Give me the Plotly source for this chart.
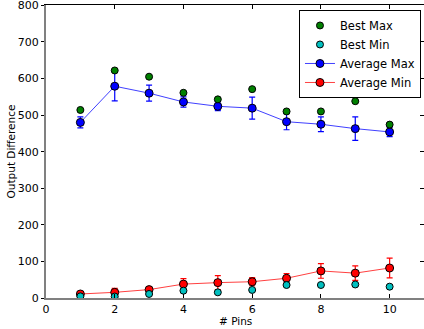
import plotly.graph_objects as go

pins = [1, 2, 3, 4, 5, 6, 7, 8, 9, 10]

best_max = [514, 622, 605, 561, 543, 571, 510, 510, 538, 474]
best_min = [4.5, 4, 11, 20, 15.5, 22, 35.5, 35.5, 37, 31]

avg_max = [480, 579, 560, 536, 524, 519, 482, 475, 463, 454]
avg_max_err = [15, 40, 22, 14, 12, 30, 22, 20, 32, 13]

avg_min = [11, 15.5, 23, 38, 42, 44.5, 54, 74, 68, 82]
avg_min_err = [6, 11, 6, 15, 19, 11, 13, 20, 20, 27]

x_ticks = [0, 2, 4, 6, 8, 10]
y_ticks = [0, 100, 200, 300, 400, 500, 600, 700, 800]

FONT = "DejaVu Sans"

fig = go.Figure()

fig.add_trace(go.Scatter(
    x=pins, y=avg_max, name="Average Max", mode="lines+markers",
    line=dict(color="rgba(0,0,255,0.75)", width=1),
    marker=dict(color="#0000ff", size=8, line=dict(color="black", width=1)),
    error_y=dict(type="data", array=avg_max_err, color="#0000ff", thickness=1.2, width=3),
    legendrank=3,
))
fig.add_trace(go.Scatter(
    x=pins, y=avg_min, name="Average Min", mode="lines+markers",
    line=dict(color="rgba(255,0,0,0.75)", width=1),
    marker=dict(color="#ff0000", size=8, line=dict(color="black", width=1)),
    error_y=dict(type="data", array=avg_min_err, color="#ff0000", thickness=1.2, width=3),
    legendrank=4,
))
fig.add_trace(go.Scatter(
    x=pins, y=best_max, name="Best Max", mode="markers",
    marker=dict(color="#008000", size=7, line=dict(color="black", width=1)),
    legendrank=1,
))
fig.add_trace(go.Scatter(
    x=pins, y=best_min, name="Best Min", mode="markers",
    marker=dict(color="#00bfbf", size=7, line=dict(color="black", width=1)),
    legendrank=2,
))
# invisible trace so the mirrored top/right axes get drawn
fig.add_trace(go.Scatter(
    x=[0], y=[0], xaxis="x2", yaxis="y2", mode="markers",
    marker=dict(opacity=0), showlegend=False, hoverinfo="skip",
))

Y_RANGE = [0, 801]

fig.update_layout(
    width=424, height=329,
    margin=dict(l=46, r=0, t=5, b=31),
    paper_bgcolor="white", plot_bgcolor="white",
    font=dict(family=FONT, size=10, color="black"),
    showlegend=True,
    legend=dict(
        x=0.992, y=0.983, xanchor="right", yanchor="top",
        bgcolor="white", bordercolor="black", borderwidth=1,
        font=dict(family=FONT, size=11.5, color="black"),
        tracegroupgap=0,
    ),
    xaxis=dict(
        range=[0, 11], tickvals=x_ticks, showgrid=False, zeroline=False,
        showline=True, linecolor="#808080", linewidth=2,
        ticks="inside", ticklen=4, tickcolor="black", tickwidth=1,
        tickfont=dict(family=FONT, size=11),
        ticklabeloverflow="allow",
    ),
    yaxis=dict(
        range=Y_RANGE, tickvals=y_ticks, showgrid=False, zeroline=False,
        showline=True, linecolor="#808080", linewidth=2,
        ticks="outside", ticklen=3, tickcolor="black", tickwidth=1,
        title=dict(text="Output Difference", font=dict(family=FONT, size=10.5), standoff=0),
        tickfont=dict(family=FONT, size=11),
        ticklabeloverflow="allow",
    ),
    xaxis2=dict(
        overlaying="x", side="top", matches="x", tickvals=x_ticks,
        showticklabels=False, showgrid=False, zeroline=False,
        showline=True, linecolor="black", linewidth=1,
        ticks="inside", ticklen=4, tickcolor="black",
    ),
    yaxis2=dict(
        overlaying="y", side="right", matches="y", tickvals=y_ticks,
        showticklabels=False, showgrid=False, zeroline=False,
        showline=True, linecolor="black", linewidth=1,
        ticks="inside", ticklen=4, tickcolor="black",
    ),
    annotations=[dict(
        text="# Pins", xref="paper", yref="paper", x=0.5, y=-0.08,
        xanchor="center", yanchor="middle", showarrow=False,
        font=dict(family=FONT, size=10.5, color="black"),
    )],
)

fig.write_html("out.html")
